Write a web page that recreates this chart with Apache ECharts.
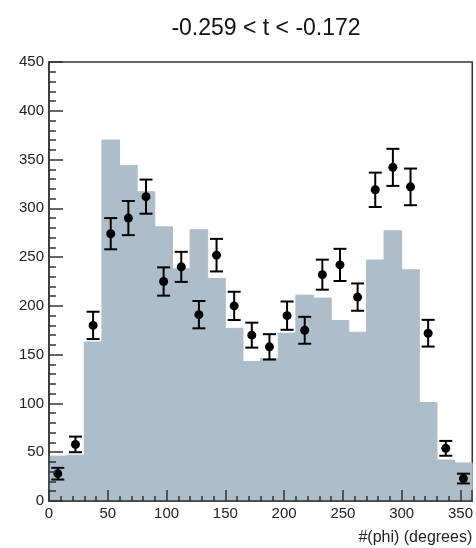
<!DOCTYPE html>
<html>
<head>
<meta charset="utf-8">
<script src="https://cdn.jsdelivr.net/npm/echarts@6/dist/echarts.min.js"></script>
<style>
html,body{margin:0;padding:0;background:#fff;}
#chart{width:476px;height:548px;}
</style>
</head>
<body>
<div id="chart"></div>
<script>
const titleText = "-0.259 < t < -0.172";
const xAxisTitle = "#(phi) (degrees)";
const binEdges = [0,15,30,45,60,75,90,105,120,135,150,165,180,195,210,225,240,255,270,285,300,315,330,345,360];
const binCenters = [7.5,22.5,37.5,52.5,67.5,82.5,97.5,112.5,127.5,142.5,157.5,172.5,187.5,202.5,217.5,232.5,247.5,262.5,277.5,292.5,307.5,322.5,337.5,352.5];
const mcHist = [46,47,163,370,344,317,281,238,278,228,177,143,146,172,211,208,185,173,247,277,237,101,42,39];
const dataVals = [28,58,180,274,290,312,225,240,191,252,200,170,158,190,175,232,242,209,319,342,322,172,54,23];
const dataErr = [6,8,14,16,17.5,17.5,14.5,15.4,14,16.7,14.5,12.8,13,14.5,13.8,15.4,16.5,14,17.6,19,18.8,13.7,7.6,5];
const xTicks = [0,50,100,150,200,250,300,350];
const yTicks = [0,50,100,150,200,250,300,350,400,450];

const histData = mcHist.map((v,i)=>[binEdges[i], binEdges[i+1], v]);
const ptsData = dataVals.map((v,i)=>[binCenters[i], v, dataErr[i]]);

const chart = echarts.init(document.getElementById('chart'), null, {renderer:'canvas'});
const FONT = '"Liberation Sans", Arial, Helvetica, sans-serif';
const axisColor = '#333';
const histColor = '#aebdca';

chart.setOption({
  animation: false,
  backgroundColor: '#fff',
  title: {
    text: titleText,
    left: 261, top: 12, textAlign: 'center',
    textStyle: {fontFamily: FONT, fontSize: 23, fontWeight: 'normal', color: '#111'}
  },
  grid: {left: 49, right: 3, top: 62, bottom: 47, show: true, borderColor: axisColor, borderWidth: 1.5, backgroundColor: 'transparent'},
  xAxis: {
    type: 'value', min: 0, max: 360, interval: 50, z: 10,
    axisLine: {show: true, lineStyle: {color: axisColor, width: 1.5}},
    axisTick: {show: true, inside: true, length: 11, lineStyle: {color: axisColor, width: 1.5}},
    minorTick: {show: true, splitNumber: 5, length: 5, lineStyle: {color: axisColor, width: 1.5}},
    splitLine: {show: false},
    axisLabel: {fontFamily: FONT, fontSize: 15, color: '#222', margin: 5,
      formatter: v => xTicks.includes(v) ? String(v) : ''},
    name: xAxisTitle, nameLocation: 'end', nameGap: 0,
    nameTextStyle: {fontFamily: FONT, fontSize: 16, color: '#222', align: 'right', verticalAlign: 'top', padding: [29, 0, 0, 0]}
  },
  yAxis: {
    type: 'value', min: 0, max: 450, interval: 50, z: 10,
    axisLine: {show: true, lineStyle: {color: axisColor, width: 1.5}},
    axisTick: {show: true, inside: true, length: 14, lineStyle: {color: axisColor, width: 1.5}},
    minorTick: {show: true, splitNumber: 5, length: 7, lineStyle: {color: axisColor, width: 1.5}},
    splitLine: {show: false},
    axisLabel: {fontFamily: FONT, fontSize: 15, color: '#222', margin: 5,
      formatter: v => yTicks.includes(v) ? String(v) : ''}
  },
  series: [
    {
      type: 'custom', name: 'mc', z: 2,
      data: histData,
      encode: {x: [0,1], y: 2},
      renderItem: function(params, api){
        const p0 = api.coord([api.value(0), api.value(2)]);
        const p1 = api.coord([api.value(1), 0]);
        return {type: 'rect', shape: {x: p0[0], y: p0[1], width: p1[0]-p0[0], height: p1[1]-p0[1]},
          style: {fill: histColor, stroke: histColor, lineWidth: 1}};
      }
    },
    {
      type: 'custom', name: 'data', z: 5,
      data: ptsData,
      encode: {x: 0, y: 1},
      renderItem: function(params, api){
        const x = api.value(0), y = api.value(1), e = api.value(2);
        const c = api.coord([x, y]);
        const top = api.coord([x, y + e]);
        const bot = api.coord([x, y - e]);
        const cw = 6.5;
        const ls = {stroke: '#000', lineWidth: 2};
        return {type: 'group', children: [
          {type: 'line', shape: {x1: c[0], y1: top[1], x2: c[0], y2: bot[1]}, style: ls},
          {type: 'line', shape: {x1: c[0]-cw, y1: top[1], x2: c[0]+cw, y2: top[1]}, style: ls},
          {type: 'line', shape: {x1: c[0]-cw, y1: bot[1], x2: c[0]+cw, y2: bot[1]}, style: ls},
          {type: 'circle', shape: {cx: c[0], cy: c[1], r: 4.5}, style: {fill: '#000'}}
        ]};
      }
    }
  ]
});
</script>
</body>
</html>
